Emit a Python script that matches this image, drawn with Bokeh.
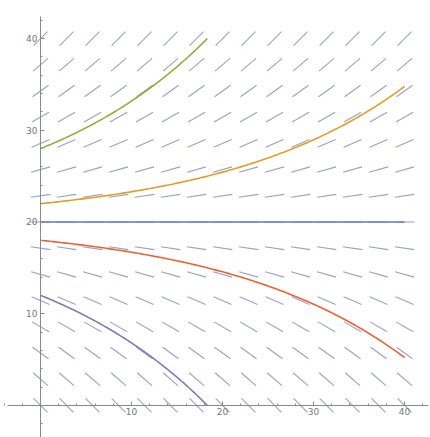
import numpy as np
from bokeh.plotting import figure
from bokeh.models import Range1d, FixedTicker
from bokeh.embed import file_html
from bokeh.resources import INLINE

# Model: dy/dt = k * (y - y_eq)
k = 0.05
y_eq = 20.0

# slope-field grid
grid_t = [0.0, 2.857, 5.714, 8.571, 11.429, 14.286, 17.143, 20.0,
          22.857, 25.714, 28.571, 31.429, 34.286, 37.143, 40.0]
grid_y = [0.0, 2.857, 5.714, 8.571, 11.429, 14.286, 17.143, 20.0,
          22.857, 25.714, 28.571, 31.429, 34.286, 37.143, 40.0]

# solution curves: initial values and colours
initial_values = [28, 22, 20, 18, 12]
curve_colors = ["#8FB032", "#E19C24", "#5E81B5", "#EB6235", "#8778B3"]

tick_major = [10, 20, 30, 40]
tick_minor = [-4, -2, 2, 4, 6, 8, 12, 14, 16, 18, 22, 24, 26, 28, 32, 34, 36, 38, 42]

p = figure(width=430, height=437, output_backend="svg", toolbar_location=None,
           x_range=Range1d(-4.4, 42.85), y_range=Range1d(-3.5, 44.15),
           min_border=0, outline_line_color=None)
p.grid.visible = False
p.background_fill_color = "white"
p.border_fill_color = "white"

# slope field
T, Y = np.meshgrid(np.array(grid_t), np.array(grid_y))
T = T.ravel(); Y = Y.ravel()
S = k * (Y - y_eq)
half = 1.08
norm = np.sqrt(1 + S ** 2)
dx = half / norm
dy = half * S / norm
p.segment(x0=T - dx, y0=Y - dy, x1=T + dx, y1=Y + dy,
          line_color="#8a91b5", line_width=1.1, line_alpha=0.85)

# solution curves
for y0, c in zip(initial_values, curve_colors):
    d = y0 - y_eq
    if d > 0:
        t_end = min(40.0, np.log((40 - y_eq) / d) / k)
    elif d < 0:
        t_end = min(40.0, np.log((y_eq - 0) / -d) / k)
    else:
        t_end = 40.0
    t = np.linspace(0, t_end, 200)
    y = y_eq + d * np.exp(k * t)
    p.line(t, y, line_color=c, line_width=1.6)

p.xaxis[0].bounds = (-3.6, 42.6)
p.yaxis[0].bounds = (-3.5, 42.4)
for ax in (p.xaxis[0], p.yaxis[0]):
    ax.fixed_location = 0
    ax.ticker = FixedTicker(ticks=tick_major, minor_ticks=tick_minor)
    ax.axis_line_color = "#8a8a8a"
    ax.axis_line_width = 1
    ax.major_tick_line_color = "#8a8a8a"
    ax.minor_tick_line_color = "#8a8a8a"
    ax.major_tick_in = 4
    ax.major_tick_out = 0
    ax.minor_tick_in = 2
    ax.minor_tick_out = 0
    ax.major_label_text_font = "DejaVu Sans"
    ax.major_label_text_font_size = "9px"
    ax.major_label_text_color = "#777777"
    ax.major_label_standoff = 3

open("out.html", "w").write(file_html(p, INLINE))
